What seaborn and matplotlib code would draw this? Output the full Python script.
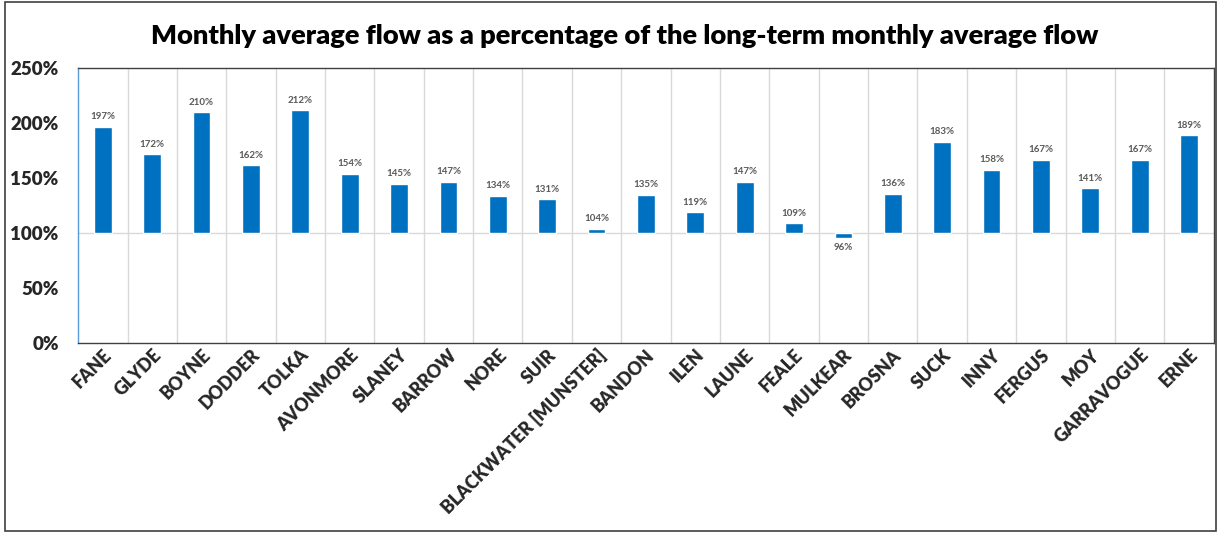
import matplotlib
matplotlib.use("Agg")
import matplotlib.pyplot as plt
import seaborn as sns
import pandas as pd
import numpy as np
from matplotlib.ticker import FuncFormatter

rivers = ["FANE", "GLYDE", "BOYNE", "DODDER", "TOLKA", "AVONMORE", "SLANEY", "BARROW",
          "NORE", "SUIR", "BLACKWATER [MUNSTER]", "BANDON", "ILEN", "LAUNE", "FEALE",
          "MULKEAR", "BROSNA", "SUCK", "INNY", "FERGUS", "MOY", "GARRAVOGUE", "ERNE"]
pct = [197, 172, 210, 162, 212, 154, 145, 147, 134, 131, 104, 135, 119, 147, 109,
       96, 136, 183, 158, 167, 141, 167, 189]
baseline = 100
yticks = [0, 50, 100, 150, 200, 250]

sns.set_theme(style="white")
plt.rcParams['font.family'] = ['Lato', 'DejaVu Sans']

df = pd.DataFrame({"river": rivers, "delta": [p - baseline for p in pct]})

fig = plt.figure(figsize=(12.21, 5.34), dpi=100)
ax = fig.add_axes([0.064, 0.357, 0.93, 0.515])

sns.barplot(data=df, x="river", y="delta", color="#0070C0", saturation=1,
            width=0.36, bottom=baseline, ax=ax, zorder=3)

ax.set_ylim(0, 250)
ax.set_xlim(-0.5, len(rivers) - 0.5)
ax.set_yticks(yticks)
ax.yaxis.set_major_formatter(FuncFormatter(lambda v, p: f"{int(v)}%"))
for lbl in ax.get_yticklabels():
    lbl.set_fontweight("heavy")
    lbl.set_fontsize(13.5)
ax.tick_params(axis="y", length=0, pad=14)
ax.tick_params(axis="x", length=0, pad=2)
ax.set_xticks(range(len(rivers)))
ax.set_xticklabels(rivers, rotation=45, ha="right", rotation_mode="anchor",
                   fontsize=12.8, fontweight="heavy")
ax.set_xlabel("")
ax.set_ylabel("")

# vertical separators between categories
for i in range(1, len(rivers)):
    ax.axvline(i - 0.5, color="#D9D9D9", lw=1, zorder=1)
ax.axhline(baseline, color="#D9D9D9", lw=1, zorder=2)

for c in ax.containers:
    for bar, p in zip(c, pct):
        x = bar.get_x() + bar.get_width() / 2
        if p >= baseline:
            ax.annotate(f"{p}%", (x, p), xytext=(0, 4), textcoords="offset points",
                        ha="center", va="bottom", fontsize=7, fontweight="bold",
                        color="#595959")
        else:
            ax.annotate(f"{p}%", (x, p), xytext=(0, -4), textcoords="offset points",
                        ha="center", va="top", fontsize=7, fontweight="bold",
                        color="#595959")

for s in ["top", "right", "bottom"]:
    ax.spines[s].set_color("#404040")
    ax.spines[s].set_linewidth(1)
ax.spines["left"].set_color("#5B9BD5")
ax.spines["left"].set_linewidth(1)

fig.text(625 / 1221, 1 - 44 / 534,
         "Monthly average flow as a percentage of the long-term monthly average flow",
         ha="center", va="baseline", fontsize=19.6, fontweight="heavy", color="black")

# figure border
fig.add_artist(plt.Rectangle((0.004, 0.006), 0.992, 0.99, transform=fig.transFigure,
                             fill=False, edgecolor="#404040", lw=1.2))

fig.savefig("out.png", dpi=100)
